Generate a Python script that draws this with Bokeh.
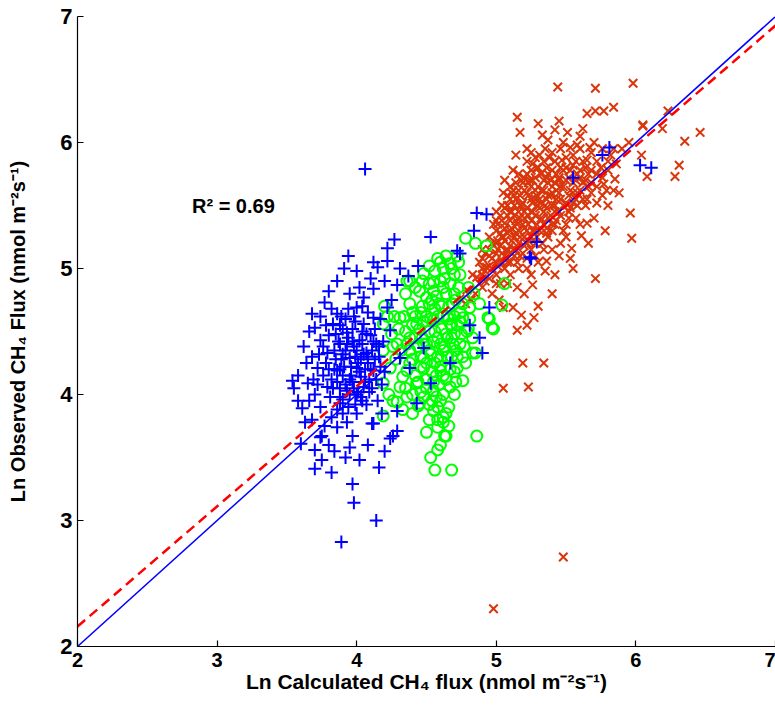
from bokeh.plotting import figure
from bokeh.models import Range1d, Label, FixedTicker
from bokeh.embed import file_html
from bokeh.resources import INLINE

# ---------------- data ----------------
blue_x = [4.06, 3.89, 4.14, 3.98, 3.97, 4.16, 3.82, 3.70, 3.75, 4.02, 4.24, 3.74, 4.29, 4.12,
          4.86, 4.93, 4.84, 4.53, 4.27, 4.22, 4.72, 3.94, 4.12, 4.22, 4.00, 4.15, 4.31, 4.44,
          4.37, 4.20, 4.12, 4.29, 3.95, 4.05, 3.77, 3.68, 3.86, 4.00, 4.12, 4.22, 3.70, 3.83,
          3.93, 4.05, 3.74, 3.88, 4.02, 4.14, 3.79, 3.95, 4.07, 3.72, 3.86, 4.00, 4.12, 3.54,
          3.55, 3.65, 3.79, 3.93, 4.05, 3.61, 3.74, 3.88, 4.00, 4.11, 4.26, 3.75, 3.86, 3.97,
          3.60, 4.48, 4.38, 4.53, 4.67, 4.88, 4.90, 4.74, 5.24, 4.81, 4.24, 4.31, 4.43, 4.29,
          5.29, 5.25, 5.55, 5.81, 5.76, 6.03, 6.11, 4.95,
          3.82, 3.90, 3.97, 4.03, 4.08, 3.92, 3.85, 3.98, 4.10, 3.90, 3.80, 4.16, 4.18, 3.70,
          3.76, 3.64, 3.68, 3.82, 3.93, 4.04, 4.15, 3.92, 3.78, 3.62, 3.66, 3.95, 3.84, 3.70,
          3.78, 3.84, 3.88, 3.91, 3.94, 3.96, 3.99, 4.01, 4.04, 4.06, 4.09, 4.11, 4.13, 4.17,
          3.81, 3.86, 3.90, 3.95, 3.99, 4.03, 4.07, 3.73, 3.69, 3.66, 3.58, 3.63, 3.77, 3.89,
          3.82, 3.99, 4.08, 4.17, 4.19, 3.94, 4.02, 3.86, 3.80, 3.91, 4.10, 4.25, 4.18, 4.08,
          3.92, 3.80, 4.20, 3.58, 3.85, 4.11, 3.97, 3.88,
          3.86, 3.89, 3.92, 3.93, 3.96, 3.98, 4.00, 4.02, 4.04, 4.06, 4.08, 4.10, 4.12, 4.14,
          3.84, 3.87, 3.90, 3.95, 3.97, 4.01, 4.03, 4.05, 4.09, 4.13, 3.83, 3.88, 3.94, 4.00,
          4.07, 3.76, 3.80, 3.72, 4.16, 4.20, 3.98, 4.04, 3.88, 3.68, 3.74, 3.90]
blue_y = [5.79, 2.83, 3.00, 3.14, 3.29, 3.42, 3.38, 3.41, 3.48, 3.48, 3.65, 3.66, 3.71, 3.77,
          5.44, 5.43, 5.30, 5.25, 5.23, 5.16, 5.14, 5.10, 5.05, 5.06, 4.98, 5.01, 5.00, 5.02,
          4.94, 4.90, 4.84, 4.87, 4.80, 4.77, 4.73, 4.64, 4.64, 4.69, 4.61, 4.69, 4.53, 4.56,
          4.49, 4.56, 4.43, 4.40, 4.43, 4.40, 4.33, 4.29, 4.33, 4.21, 4.19, 4.21, 4.19, 4.11,
          4.05, 4.09, 4.06, 4.03, 4.06, 3.89, 3.90, 3.93, 3.85, 3.77, 3.67, 3.67, 3.74, 3.67,
          3.61, 4.37, 4.21, 4.09, 4.25, 4.45, 4.33, 5.12, 5.09, 4.55, 4.51, 4.29, 3.93, 3.87,
          5.21, 5.08, 5.72, 5.96, 5.90, 5.82, 5.80, 4.69,
          4.12, 4.15, 4.10, 4.14, 4.25, 4.35, 4.28, 4.38, 4.47, 4.52, 4.47, 4.30, 4.08, 4.00,
          4.15, 4.25, 3.80, 3.82, 3.78, 3.95, 3.95, 4.60, 4.55, 4.38, 4.50, 3.58, 3.55, 3.56,
          4.25, 4.35, 4.05, 4.22, 4.45, 4.15, 4.30, 4.02, 4.40, 4.20, 4.12, 4.35, 4.52, 4.22,
          3.98, 3.88, 3.96, 4.00, 3.92, 4.28, 4.48, 4.32, 4.12, 3.95, 4.15, 3.78, 3.75, 4.62,
          4.68, 4.58, 4.65, 4.60, 4.42, 4.68, 4.85, 4.90, 4.82, 5.00, 4.92, 4.75, 3.85, 3.60,
          3.50, 3.60, 3.55, 3.95, 4.48, 4.05, 4.52, 4.20,
          4.10, 4.28, 4.08, 4.40, 4.22, 4.05, 4.35, 4.18, 4.50, 4.10, 4.30, 4.20, 4.42, 4.12,
          4.20, 4.42, 4.32, 4.12, 4.42, 4.25, 3.98, 4.32, 4.02, 4.28, 4.05, 3.98, 3.90, 4.00,
          3.92, 4.38, 4.20, 4.08, 4.38, 4.18, 4.62, 4.70, 4.55, 4.30, 4.62, 3.85]

green_x = [4.78, 4.93, 4.58, 4.67, 4.73, 4.48, 4.55, 4.67, 4.38, 4.50, 4.59, 4.71, 4.81, 4.88,
           4.19, 4.31, 4.43, 4.55, 4.67, 4.76, 4.94, 4.98, 5.04, 4.19, 4.29, 4.38, 4.50, 4.62,
           4.74, 4.83, 4.83, 4.24, 4.36, 4.48, 4.60, 4.72, 4.76, 4.19, 4.31, 4.43, 4.55, 4.67,
           4.26, 4.36, 4.45, 4.19, 4.55, 4.62, 4.58, 4.64, 4.86, 4.38, 4.65, 4.48,
           4.53, 4.56, 4.68, 4.63, 4.29, 4.44, 4.85, 4.95, 4.97, 4.85, 5.06,
           4.52, 4.58, 4.62, 4.70, 4.46, 4.53, 4.60, 4.68, 4.57, 4.64, 4.50, 4.42, 4.35, 4.40,
           4.46, 4.60, 4.70, 4.52, 4.66, 4.72, 4.64, 4.56, 4.62, 4.70, 4.80, 4.45, 4.28, 4.33,
           4.25, 4.40, 4.76, 4.79, 4.61, 4.52, 4.74, 4.56, 4.48, 4.69, 4.58, 4.62, 4.40, 4.35,
           4.23, 4.27, 4.35, 4.20,
           4.40, 4.44, 4.47, 4.50, 4.53, 4.55, 4.57, 4.59, 4.61, 4.63, 4.65, 4.67, 4.69, 4.71,
           4.73, 4.75, 4.54, 4.48, 4.42, 4.38, 4.34, 4.32, 4.30, 4.26, 4.22, 4.58, 4.66, 4.71,
           4.78, 4.81, 4.84, 4.60, 4.52, 4.64, 4.42, 4.36, 4.47, 4.56, 4.68, 4.74, 4.62, 4.54,
           4.50, 4.60, 4.40, 4.33, 4.46, 4.58, 4.70, 4.77,
           4.45, 4.48, 4.50, 4.52, 4.54, 4.56, 4.58, 4.60, 4.62, 4.64, 4.66, 4.68, 4.70, 4.72,
           4.74, 4.46, 4.50, 4.55, 4.60, 4.65, 4.70, 4.57, 4.63, 4.68, 4.72, 4.60, 4.55, 4.47,
           4.52, 4.76, 4.80, 4.42, 4.38, 4.44, 4.36, 4.64, 4.58, 4.52, 4.66, 4.62]
green_y = [5.24, 5.18, 5.08, 5.04, 5.05, 4.96, 4.89, 4.88, 4.72, 4.77, 4.72, 4.75, 4.69, 4.72,
           4.56, 4.61, 4.56, 4.59, 4.56, 4.61, 4.61, 4.52, 4.71, 4.35, 4.40, 4.35, 4.40, 4.35,
           4.40, 4.45, 4.33, 4.21, 4.19, 4.21, 4.19, 4.21, 4.11, 4.09, 4.06, 4.09, 4.03, 4.06,
           3.95, 3.98, 3.93, 3.83, 3.87, 3.82, 3.74, 3.67, 3.67, 4.90, 4.45, 4.29,
           3.50, 3.40, 3.40, 3.67, 3.94, 3.91, 5.20, 4.60, 4.53, 4.33, 4.88,
           4.50, 4.45, 4.62, 4.48, 4.65, 4.32, 4.28, 4.30, 4.15, 4.12, 4.12, 4.45, 4.50, 4.28,
           4.02, 3.95, 4.00, 3.80, 3.90, 4.55, 4.80, 4.98, 5.00, 4.95, 4.85, 4.82, 4.28, 4.14,
           4.48, 4.65, 4.30, 4.50, 4.70, 4.88, 4.65, 4.25, 4.58, 4.40, 3.56, 3.78, 3.85, 4.05,
           4.00, 4.62, 4.80, 4.70,
           4.55, 4.38, 4.70, 4.25, 4.60, 4.42, 4.78, 4.08, 4.52, 4.38, 4.62, 4.20, 4.72, 4.35,
           4.85, 4.48, 4.18, 3.98, 4.15, 4.45, 4.62, 4.35, 4.52, 4.38, 4.62, 3.90, 3.75, 4.10,
           4.25, 4.60, 4.80, 4.90, 5.02, 5.10, 4.85, 4.90, 4.45, 4.68, 4.55, 4.95, 4.00, 3.95,
           3.70, 3.60, 4.00, 3.88, 4.30, 4.30, 4.62, 4.38,
           4.52, 4.40, 4.62, 4.35, 4.75, 4.50, 4.62, 4.40, 4.85, 4.48, 4.70, 4.45, 4.80, 4.30,
           4.58, 4.22, 4.05, 4.10, 4.22, 4.30, 4.18, 3.98, 4.92, 5.00, 5.10, 5.05, 4.82, 4.90,
           4.72, 4.72, 4.52, 4.62, 4.25, 4.10, 4.40, 3.85, 3.80, 3.92, 4.60, 4.15]

red_x = [5.44, 5.71, 5.98, 5.15, 5.17, 5.45, 5.51, 5.62, 5.65, 5.71, 5.77, 5.84, 5.33, 5.37,
         5.25, 5.53, 5.58, 5.67, 6.05, 6.19, 6.35, 6.46, 6.31, 6.28, 6.08, 6.04, 5.96, 5.97,
         5.71, 5.54, 5.53, 5.19, 5.34, 5.05, 5.23, 5.15, 5.18, 5.27, 5.12, 5.20, 5.26, 5.35,
         5.36, 5.61, 5.65, 5.72, 5.79, 5.85, 5.86, 5.12, 5.26, 5.24, 5.38, 5.47, 5.65, 5.72,
         5.77, 5.03, 4.93, 4.86, 4.79, 4.74, 5.03, 5.08, 5.06, 5.05, 5.15, 4.98, 5.48, 5.22,
         5.05, 5.08, 6.23, 6.05,
         4.95, 5.00, 5.00, 5.05, 5.08, 5.10, 5.10, 5.12, 5.15, 5.15, 5.18, 5.20, 5.20, 5.22,
         5.25, 5.25, 5.28, 5.28, 5.30, 5.32, 5.33, 5.35, 5.37, 5.40, 5.40, 5.42, 5.45, 5.46,
         5.48, 5.50, 5.52, 5.55, 5.58, 5.60, 5.62, 5.65, 5.68, 5.70, 5.75, 5.80, 5.82, 5.55,
         5.42, 5.30, 5.18, 5.08, 4.98, 4.90, 4.92, 4.97, 5.02, 5.10, 5.15, 5.22, 5.30, 5.40,
         5.45, 5.50, 5.60, 5.06, 5.14, 5.22, 5.35, 5.48, 5.60, 5.70, 5.30, 5.42, 5.12, 5.00,
         4.88, 4.83, 5.36, 5.25, 5.90, 5.95, 5.88, 5.78, 5.66, 5.55, 5.40, 5.30, 5.42,
         4.90, 4.90, 4.90, 4.95, 4.95, 4.95, 4.95, 5.00, 5.00, 5.00, 5.00, 5.00, 5.03, 5.03,
         5.03, 5.06, 5.06, 5.06, 5.06, 5.06, 5.10, 5.10, 5.10, 5.10, 5.10, 5.13, 5.13, 5.13,
         5.13, 5.16, 5.16, 5.16, 5.16, 5.16, 5.16, 5.19, 5.19, 5.19, 5.19, 5.22, 5.22, 5.22,
         5.22, 5.22, 5.22, 5.25, 5.25, 5.25, 5.25, 5.25, 5.28, 5.28, 5.28, 5.28, 5.28, 5.28,
         5.31, 5.31, 5.31, 5.31, 5.34, 5.34, 5.34, 5.34, 5.34, 5.34, 5.37, 5.37, 5.37, 5.37,
         5.40, 5.40, 5.40, 5.40, 5.40, 5.43, 5.43, 5.43, 5.43, 5.46, 5.46, 5.46, 5.46, 5.46,
         5.50, 5.50, 5.50, 5.50, 5.53, 5.53, 5.53, 5.57, 5.57, 5.57, 5.57, 5.60, 5.60, 5.60,
         5.64, 5.64, 5.64, 5.68, 5.68, 5.68, 5.72, 5.72, 5.76, 5.76, 5.76, 5.80, 5.80, 5.84,
         5.84,
         4.92, 4.92, 4.97, 4.97, 4.97, 5.01, 5.01, 5.01, 5.01, 5.04, 5.04, 5.04, 5.04, 5.04,
         5.08, 5.08, 5.08, 5.08, 5.08, 5.11, 5.11, 5.11, 5.11, 5.11, 5.14, 5.14, 5.14, 5.14,
         5.14, 5.17, 5.17, 5.17, 5.17, 5.17, 5.20, 5.20, 5.20, 5.20, 5.20, 5.23, 5.23, 5.23,
         5.23, 5.23, 5.26, 5.26, 5.26, 5.26, 5.29, 5.29, 5.29, 5.29, 5.29, 5.32, 5.32, 5.32,
         5.32, 5.36, 5.36, 5.36, 5.36, 5.36, 5.39, 5.39, 5.39, 5.42, 5.42, 5.42, 5.42, 5.45,
         5.45, 5.45, 5.48, 5.48, 5.48, 5.52, 5.52, 5.52, 5.55, 5.55, 5.55, 5.58, 5.58, 5.62,
         5.62, 5.66, 5.66, 4.85, 4.88, 4.82, 4.90, 4.78]
red_y = [6.44, 6.43, 6.47, 6.20, 6.08, 6.17, 6.08, 6.11, 6.23, 6.25, 6.25, 6.28, 6.06, 6.02,
         5.92, 5.96, 5.98, 5.96, 6.14, 6.11, 6.01, 6.08, 5.82, 5.73, 5.73, 5.90, 5.44, 5.24,
         4.92, 5.16, 5.08, 4.25, 4.25, 4.05, 4.06, 4.51, 4.63, 4.61, 4.69, 4.80, 4.87, 4.98,
         5.06, 5.26, 5.36, 5.52, 5.62, 5.71, 5.83, 5.78, 5.83, 5.70, 5.88, 5.86, 5.86, 5.75,
         5.67, 5.04, 5.01, 4.93, 4.83, 4.76, 4.88, 5.14, 5.36, 5.60, 5.56, 2.30, 2.71, 4.55,
         4.69, 4.88, 6.25, 6.13,
         5.10, 5.20, 4.95, 5.25, 5.05, 5.30, 5.45, 5.15, 5.35, 5.05, 5.50, 5.25, 5.40, 5.60,
         5.15, 5.45, 5.30, 5.55, 5.65, 5.40, 5.20, 5.50, 5.75, 5.35, 5.60, 5.45, 5.70, 5.55,
         5.30, 5.80, 5.45, 5.60, 5.50, 5.72, 5.85, 5.55, 5.68, 5.40, 5.80, 5.50, 5.90, 5.90,
         5.85, 5.80, 5.70, 5.50, 5.35, 5.15, 4.90, 4.80, 4.75, 4.95, 4.85, 5.00, 5.05, 5.15,
         5.10, 5.25, 5.35, 5.70, 5.90, 5.95, 5.95, 6.00, 6.05, 6.00, 6.15, 6.10, 5.62, 5.45,
         5.05, 4.95, 5.28, 4.95, 5.95, 6.00, 5.60, 5.30, 5.20, 5.00, 4.80, 4.70, 4.95,
         5.00, 5.08, 4.95, 5.02, 5.15, 5.25, 4.92, 5.05, 5.12, 5.30, 5.38, 4.88, 5.18, 5.28,
         5.42, 5.00, 5.10, 5.22, 5.32, 5.48, 5.05, 5.18, 5.38, 5.55, 5.65, 5.10, 5.25, 5.42,
         5.50, 5.00, 5.20, 5.30, 5.45, 5.62, 5.75, 5.12, 5.35, 5.52, 5.68, 5.08, 5.20, 5.30,
         5.48, 5.75, 5.85, 5.25, 5.38, 5.55, 5.65, 5.78, 5.10, 5.20, 5.42, 5.62, 5.72, 5.88,
         5.30, 5.48, 5.55, 5.90, 5.15, 5.35, 5.45, 5.62, 5.70, 5.85, 5.25, 5.40, 5.58, 5.68,
         5.30, 5.50, 5.65, 5.78, 5.92, 5.38, 5.55, 5.62, 5.75, 5.20, 5.42, 5.65, 5.80, 5.95,
         5.35, 5.52, 5.70, 5.88, 5.48, 5.62, 5.78, 5.40, 5.55, 5.70, 5.85, 5.62, 5.78, 5.95,
         5.50, 5.70, 5.80, 5.60, 5.78, 5.92, 5.65, 5.85, 5.58, 5.72, 5.95, 5.78, 5.85, 5.62,
         5.95,
         4.98, 5.12, 5.00, 5.08, 5.20, 5.02, 5.15, 5.22, 5.35, 5.05, 5.12, 5.25, 5.38, 5.50,
         5.08, 5.15, 5.28, 5.42, 5.58, 5.12, 5.22, 5.32, 5.45, 5.60, 5.15, 5.28, 5.38, 5.55,
         5.68, 5.10, 5.25, 5.40, 5.50, 5.58, 5.18, 5.32, 5.45, 5.62, 5.72, 5.22, 5.35, 5.42,
         5.58, 5.68, 5.30, 5.45, 5.52, 5.70, 5.25, 5.35, 5.50, 5.58, 5.80, 5.38, 5.52, 5.62,
         5.75, 5.32, 5.48, 5.55, 5.72, 5.80, 5.42, 5.58, 5.70, 5.35, 5.50, 5.68, 5.85, 5.45,
         5.60, 5.72, 5.50, 5.65, 5.78, 5.40, 5.58, 5.72, 5.52, 5.68, 5.82, 5.60, 5.75, 5.55,
         5.68, 5.65, 5.75, 4.80, 4.88, 4.75, 4.85, 4.72]

# lines: 1:1 line and regression fit
line_x = [2, 7]
REG_SLOPE = 0.954
REG_INTERCEPT = 0.25
r2_text = "R² = 0.69"
ticks = [2, 3, 4, 5, 6, 7]

# ---------------- figure ----------------
p = figure(width=775, height=709, output_backend="svg", toolbar_location=None,
           x_range=Range1d(2, 7), y_range=Range1d(2, 7),
           min_border_left=77, min_border_right=0, min_border_top=16, min_border_bottom=63)
p.outline_line_color = None
p.xgrid.visible = False
p.ygrid.visible = False
p.background_fill_color = "white"

FONT = "Liberation Sans"
for ax in (p.xaxis[0], p.yaxis[0]):
    ax.ticker = FixedTicker(ticks=ticks)
    ax.major_tick_in = 6
    ax.major_tick_out = 0
    ax.minor_tick_line_color = None
    ax.axis_line_color = "black"
    ax.axis_line_width = 1.2
    ax.major_tick_line_width = 1.2
    ax.major_label_text_font = FONT
    ax.major_label_text_font_style = "bold"
    ax.major_label_text_color = "black"
    ax.axis_label_text_font = FONT
    ax.axis_label_text_font_style = "bold"
    ax.axis_label_text_color = "black"
    ax.axis_label_text_font_size = "20px"

p.xaxis[0].axis_label_text_font_size = "21px"
p.xaxis[0].major_label_text_font_size = "20px"
p.yaxis[0].major_label_text_font_size = "22px"
p.xaxis[0].major_label_standoff = 6
p.yaxis[0].major_label_standoff = 5
p.xaxis[0].axis_label = "Ln Calculated CH₄ flux (nmol m⁻²s⁻¹)"
p.yaxis[0].axis_label = "Ln Observed CH₄ Flux (nmol m⁻²s⁻¹)"
p.xaxis[0].axis_label_standoff = 0
p.yaxis[0].axis_label_standoff = 28

RED = "#D9360C"
p.scatter(red_x, red_y, marker="x", size=12, line_color=RED, line_width=2)
p.scatter(green_x, green_y, marker="circle", size=11, fill_color=None,
          line_color="#00FF00", line_width=2)
p.scatter(blue_x, blue_y, marker="cross", size=13, line_color="#0000FF", line_width=2)

one_y = [v for v in line_x]
reg_y = [REG_INTERCEPT + REG_SLOPE * v for v in line_x]
p.line(line_x, one_y, line_color="#0000FF", line_width=1.5)
p.line(line_x, reg_y, line_color="#FF0000", line_width=2.5, line_dash="10 6")

p.add_layout(Label(x=2.82, y=5.5, text=r2_text, text_font=FONT, text_font_style="bold",
                   text_font_size="20px", text_color="black", text_baseline="alphabetic"))

open("out.html", "w").write(file_html(p, INLINE))
